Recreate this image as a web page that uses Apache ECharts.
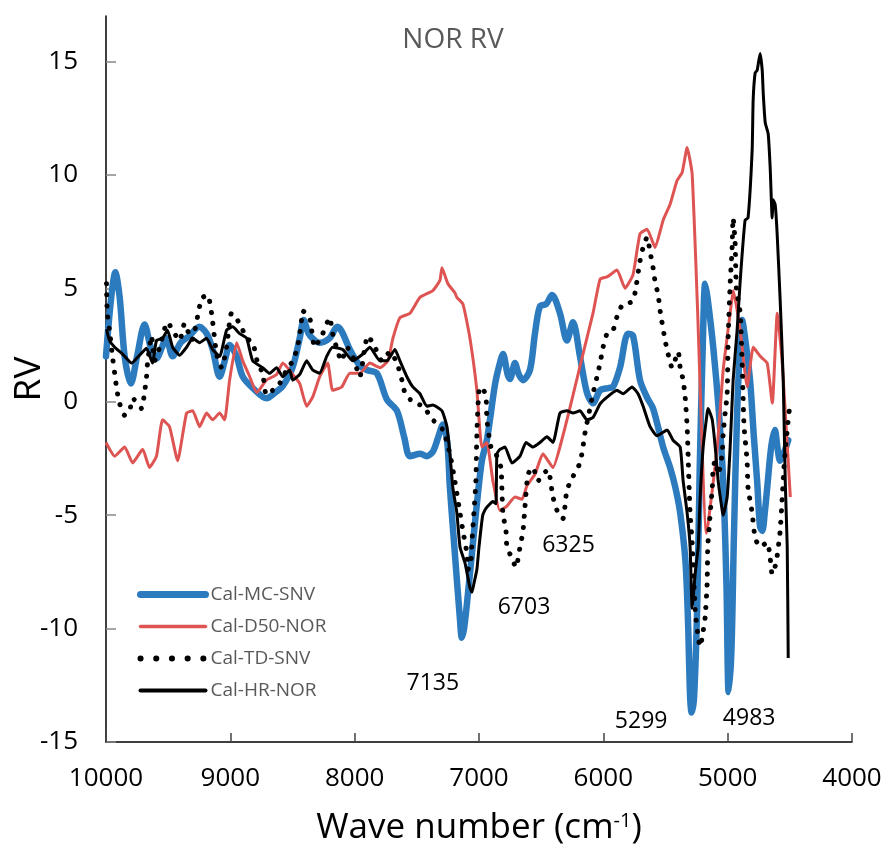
<!DOCTYPE html>
<html>
<head>
<meta charset="utf-8">
<script src="https://cdn.jsdelivr.net/npm/echarts@6/dist/echarts.min.js"></script>
<style>html,body{margin:0;padding:0;background:#fff}#c{width:885px;height:850px}</style>
</head>
<body>
<div id="c"></div>
<script>
// ---- data (wave number cm-1, RV) ----
const seriesNames = ['Cal-MC-SNV', 'Cal-D50-NOR', 'Cal-TD-SNV', 'Cal-HR-NOR'];
const xTicks = [4000, 5000, 6000, 7000, 8000, 9000, 10000];
const yTicks = [-15, -10, -5, 0, 5, 10, 15];

const mcWave = [10000,9960,9925,9890,9850,9800,9750,9690,9640,9594,9550,9515,9464,9400,9330,9250,9190,9142,9086,9040,9006,8950,8900,8800,8710,8640,8578,8500,8442,8410,8370,8320,8281,8201,8140,8104,8039,7960,7902,7821,7741,7660,7600,7556,7470,7420,7371,7330,7290,7255,7234,7194,7153,7138,7120,7097,7057,7017,6977,6937,6912,6870,6832,6807,6770,6751,6711,6680,6646,6590,6550,6510,6460,6413,6349,6293,6244,6188,6132,6083,6026,5960,5922,5866,5801,5761,5705,5650,5600,5519,5463,5420,5382,5340,5320,5302,5290,5270,5245,5225,5200,5181,5160,5116,5070,5036,5010,4992,4970,4950,4924,4900,4884,4860,4820,4790,4763,4740,4722,4700,4682,4650,4620,4600,4578,4550,4513];
const mcRV   = [2.0,4.5,5.7,4.6,2.0,0.8,2.0,3.4,2.4,1.9,2.4,2.8,2.0,2.6,2.9,3.3,3.0,2.3,1.1,1.9,2.5,2.0,1.1,0.5,0.15,0.4,0.7,1.5,2.8,3.6,3.0,2.7,2.6,2.8,3.3,3.1,2.3,1.6,1.4,1.25,0.1,-0.4,-1.6,-2.4,-2.3,-2.4,-2.2,-1.6,-1.0,-1.8,-3.8,-6.7,-9.6,-10.4,-10.0,-8.9,-6.7,-4.5,-2.6,-1.7,-0.8,0.8,1.7,2.1,1.2,1.0,1.7,1.2,0.95,1.4,3.0,4.2,4.3,4.7,3.9,2.7,3.5,2.0,0.4,-0.07,0.5,0.6,0.65,1.5,3.0,2.9,0.95,0.2,-0.3,-2.0,-2.9,-3.8,-4.9,-7.0,-9.5,-13.0,-13.7,-13.0,-9.0,-3.0,2.5,5.2,4.5,2.4,-0.5,-3.5,-8.0,-12.8,-11.0,-6.0,-0.5,2.5,3.6,2.8,0.95,-1.5,-3.5,-5.5,-5.7,-4.8,-3.8,-2.0,-1.25,-2.0,-2.6,-2.3,-1.7];

const d50Wave = [10000,9930,9850,9786,9705,9650,9594,9545,9489,9424,9352,9303,9247,9191,9142,9086,9046,9006,8949,8900,8844,8788,8710,8628,8578,8498,8442,8386,8338,8281,8217,8177,8104,8039,7959,7878,7797,7733,7692,7636,7555,7475,7371,7314,7298,7250,7194,7178,7129,7073,7017,6977,6937,6888,6832,6775,6711,6654,6614,6550,6486,6405,6325,6252,6164,6083,6026,5970,5890,5825,5761,5705,5648,5584,5519,5463,5407,5366,5326,5286,5245,5170,5084,5036,4980,4955,4899,4843,4794,4738,4682,4641,4601,4561,4496];
const d50RV   = [-1.8,-2.4,-2.0,-2.7,-2.1,-2.9,-2.4,-0.8,-1.1,-2.6,-0.5,-0.4,-1.1,-0.5,-0.8,-0.5,-0.8,0.95,2.6,1.8,1.1,0.4,0.95,1.2,1.7,1.2,0.8,-0.2,0.2,1.1,1.7,0.5,0.65,1.25,1.25,1.7,1.5,1.8,2.8,3.7,3.9,4.6,4.9,5.35,5.9,5.2,4.8,4.6,4.3,2.8,0.5,-2.0,-1.8,-3.5,-4.8,-4.6,-4.2,-4.3,-3.7,-3.2,-2.3,-2.9,-1.5,0.1,2.1,3.9,5.4,5.5,5.8,5.0,5.6,7.4,7.6,6.8,8.0,8.7,9.75,10.1,11.2,10.05,4.5,-5.8,-2.0,1.4,3.9,4.9,3.15,0.65,2.4,2.0,1.7,-0.07,3.9,1.7,-4.2];

const tdWave = [9996,9990,9972,9946,9930,9915,9891,9850,9810,9786,9746,9714,9690,9674,9666,9634,9610,9569,9505,9448,9408,9368,9312,9231,9183,9151,9110,9070,9030,8990,8925,8869,8820,8780,8740,8710,8660,8603,8547,8498,8460,8430,8418,8362,8321,8257,8201,8177,8104,8064,8015,7959,7918,7894,7837,7781,7716,7660,7620,7596,7532,7451,7371,7290,7234,7194,7153,7129,7097,7089,7065,7057,7041,7025,7017,7000,6976,6944,6936,6904,6864,6824,6816,6808,6783,6775,6735,6703,6670,6646,6630,6606,6566,6526,6486,6445,6405,6365,6325,6293,6244,6188,6164,6148,6083,6051,6026,6002,5970,5922,5882,5841,5769,5745,5705,5680,5648,5624,5600,5584,5559,5543,5503,5479,5447,5398,5382,5358,5342,5326,5318,5310,5302,5286,5261,5237,5221,5197,5181,5165,5160,5140,5124,5116,5100,5076,5044,5036,5020,5004,4996,4980,4964,4956,4940,4930,4899,4884,4876,4868,4844,4836,4803,4779,4739,4682,4658,4642,4620,4602,4578,4561,4545,4521,4505];
const tdRV   = [5.2,3.9,3.15,1.9,1.25,0.6,-0.07,-0.6,-0.4,0.15,-0.07,-0.3,0.4,1.1,1.7,2.9,1.8,2.4,3.5,3.0,2.7,3.45,2.7,4.55,4.7,3.9,2.1,1.5,2.4,3.9,3.45,2.8,2.6,1.7,1.25,0.3,0.5,0.8,1.4,1.8,2.4,3.45,4.0,3.7,2.4,3.0,3.7,3.0,1.8,2.4,2.0,1.1,2.4,2.9,2.4,1.8,2.2,1.7,0.95,0.4,-0.02,-0.2,-0.8,-1.25,-2.3,-3.5,-4.9,-5.7,-6.7,-7.4,-7.0,-6.2,-4.9,-3.5,-1.4,0.5,0.65,0.2,-0.8,-2.0,-2.3,-2.9,-3.8,-4.9,-5.7,-6.4,-6.9,-7.3,-6.4,-5.7,-4.6,-3.2,-2.9,-3.5,-3.2,-3.0,-4.2,-4.9,-5.15,-3.9,-3.3,-2.7,-2.0,-1.4,0.35,1.1,1.7,2.4,3.0,3.15,3.9,4.3,4.4,4.8,6.2,6.8,7.25,6.6,5.9,5.3,4.7,4.0,2.7,2.1,1.5,2.2,1.5,0.95,0.2,-1.1,-2.4,-3.8,-4.9,-6.2,-9.2,-10.4,-10.8,-10.1,-9.5,-8.0,-6.4,-4.9,-3.8,-2.9,-2.6,-3.2,-2.3,-1.4,-0.5,0.35,2.8,5.2,6.8,8.1,7.0,5.0,3.9,1.7,0.2,-1.1,-2.6,-3.8,-4.9,-6.0,-6.4,-6.2,-6.9,-7.6,-7.3,-6.8,-5.7,-4.2,-2.7,-1.25,-0.4];

const hrWave = [9996,9972,9930,9867,9794,9730,9674,9626,9594,9545,9505,9464,9408,9352,9303,9247,9191,9142,9086,9030,8981,8925,8869,8820,8740,8684,8628,8578,8523,8498,8442,8386,8338,8281,8225,8177,8096,8015,7934,7878,7797,7741,7676,7636,7580,7532,7475,7420,7371,7298,7258,7234,7210,7178,7153,7113,7073,7057,7040,7017,7000,6970,6944,6888,6864,6856,6832,6791,6735,6670,6622,6566,6510,6453,6405,6349,6293,6244,6188,6132,6083,6026,5970,5890,5841,5769,5721,5680,5624,5568,5487,5439,5382,5358,5326,5302,5286,5260,5237,5221,5197,5165,5157,5124,5100,5076,5044,5036,5004,4980,4956,4924,4899,4860,4836,4803,4795,4779,4763,4739,4722,4714,4698,4674,4658,4642,4634,4618,4602,4578,4553,4537,4521,4513];
const hrRV   = [3.2,2.7,2.4,2.1,1.7,2.05,2.35,1.7,2.7,2.8,3.15,2.4,2.05,2.4,2.8,2.6,2.8,2.3,2.0,3.15,3.3,3.0,2.8,1.8,1.5,1.25,1.5,1.1,1.4,0.95,1.2,1.8,1.4,1.25,2.0,2.4,2.3,1.8,2.1,2.4,1.8,1.8,2.3,1.8,1.1,0.65,0.35,-0.2,-0.15,-0.4,-1.1,-2.3,-3.8,-4.9,-6.4,-7.1,-8.2,-8.4,-8.0,-7.4,-6.4,-5.0,-4.7,-4.4,-4.5,-2.3,-2.1,-2.0,-2.7,-2.4,-1.8,-2.0,-1.8,-1.55,-1.8,-0.5,-0.4,-0.5,-0.4,-0.8,-0.7,-0.1,0.2,0.5,0.35,0.65,0.35,-0.2,-1.1,-1.5,-1.25,-1.7,-2.0,-3.5,-4.9,-6.4,-9.1,-7.5,-6.4,-4.2,-2.0,-0.5,-0.3,-0.8,-2.0,-3.5,-4.8,-5.0,-4.2,-2.0,0.95,3.15,5.35,8.0,8.1,11.1,13.3,14.5,14.6,15.35,14.6,13.6,12.3,11.8,10.3,8.1,8.9,8.7,7.4,4.5,0.95,-3.5,-6.4,-11.3];

// peak annotations (text, wave number, RV of label centre)
const noteText = ['7135', '6703', '6325', '5299', '4983'];
const noteWave = [7371, 6638, 6280, 5696, 4827];
const noteRV   = [-12.4, -9.05, -6.35, -14.1, -13.95];

const zip = (xs, ys) => xs.map((x, i) => [x, ys[i]]);
const FONT = 'Open Sans';

const chart = echarts.init(document.getElementById('c'), null, {renderer: 'canvas'});
chart.setOption({
  backgroundColor: '#fff',
  animation: false,
  title: {
    text: 'NOR RV', left: 448, top: 21, textAlign: 'center',
    textStyle: {fontFamily: FONT, fontSize: 28, fontWeight: 'normal', color: '#595959'}
  },
  grid: {left: 106, right: 33, top: 16, bottom: 108, containLabel: false, outerBoundsMode: 'none'},
  legend: {
    orient: 'vertical', left: 137, top: 585, padding: 0,
    itemWidth: 65, itemHeight: 20, itemGap: 13,
    itemStyle: {opacity: 0},
    textStyle: {fontFamily: FONT, fontSize: 19, color: '#595959'},
    data: [
      {name: seriesNames[0], lineStyle: {width: 7, cap: 'round'}},
      {name: seriesNames[1], lineStyle: {width: 3.5, cap: 'round'}},
      {name: seriesNames[2], lineStyle: {width: 6, type: [0.1, 15.6], cap: 'round'}},
      {name: seriesNames[3], lineStyle: {width: 4, cap: 'round'}}
    ]
  },
  xAxis: {
    type: 'value', inverse: true, min: 4000, max: 10000, interval: 1000,
    name: '{a|Wave number (cm}{s|-1}{a|)}', nameLocation: 'middle', nameGap: 69,
    nameMoveOverlap: false,
    nameTextStyle: {
      rich: {
        a: {fontFamily: FONT, fontSize: 35, color: '#000'},
        s: {fontFamily: FONT, fontSize: 20, color: '#000', verticalAlign: 'top', padding: [0, 0, 14, 0]}
      }
    },
    axisLine: {onZero: false, lineStyle: {color: '#000', width: 1.5}},
    axisTick: {inside: true, length: 9, lineStyle: {color: '#444', width: 1.5}},
    axisLabel: {fontFamily: FONT, fontSize: 26, color: '#000', margin: 24, customValues: xTicks,
                formatter: v => String(v)},
    splitLine: {show: false}
  },
  yAxis: {
    type: 'value', min: -15, max: 17, interval: 5,
    name: 'RV', nameLocation: 'middle', nameGap: 58, nameMoveOverlap: false,
    nameTextStyle: {fontFamily: FONT, fontSize: 37, color: '#000'},
    axisLine: {onZero: false, lineStyle: {color: '#000', width: 1.5}},
    axisTick: {inside: true, length: 10, lineStyle: {color: '#888', width: 1.5}, customValues: yTicks},
    axisLabel: {fontFamily: FONT, fontSize: 26, color: '#000', margin: 28, customValues: yTicks,
                formatter: v => String(v)},
    splitLine: {show: false}
  },
  series: [
    {name: seriesNames[0], type: 'line', data: zip(mcWave, mcRV), showSymbol: false, symbol: 'none', smooth: 0.3,
     lineStyle: {color: '#2C7BBF', width: 6.5, cap: 'round', join: 'round'}, itemStyle: {color: '#2C7BBF'}},
    {name: seriesNames[1], type: 'line', data: zip(d50Wave, d50RV), showSymbol: false, symbol: 'none', smooth: 0.15,
     lineStyle: {color: '#DE5452', width: 3, join: 'round'}, itemStyle: {color: '#DE5452'}},
    {name: seriesNames[2], type: 'line', data: zip(tdWave, tdRV), showSymbol: false, symbol: 'none', smooth: 0.2,
     lineStyle: {color: '#000', width: 5, type: [0.1, 11], cap: 'round'}, itemStyle: {color: '#000'}},
    {name: seriesNames[3], type: 'line', data: zip(hrWave, hrRV), showSymbol: false, symbol: 'none', smooth: 0.15,
     lineStyle: {color: '#000', width: 3, join: 'round'}, itemStyle: {color: '#000'}},
    {name: 'notes', type: 'scatter', symbol: 'circle', symbolSize: 2, silent: true,
     itemStyle: {color: 'rgba(255,255,255,0)'},
     data: noteText.map((t, i) => ({name: t, value: [noteWave[i], noteRV[i]]})),
     label: {show: true, position: [1, 1], align: 'center', verticalAlign: 'middle', formatter: '{b}',
             fontFamily: FONT, fontSize: 23, color: '#000', opacity: 1, textBorderWidth: 0}}
  ]
});
</script>
</body>
</html>
